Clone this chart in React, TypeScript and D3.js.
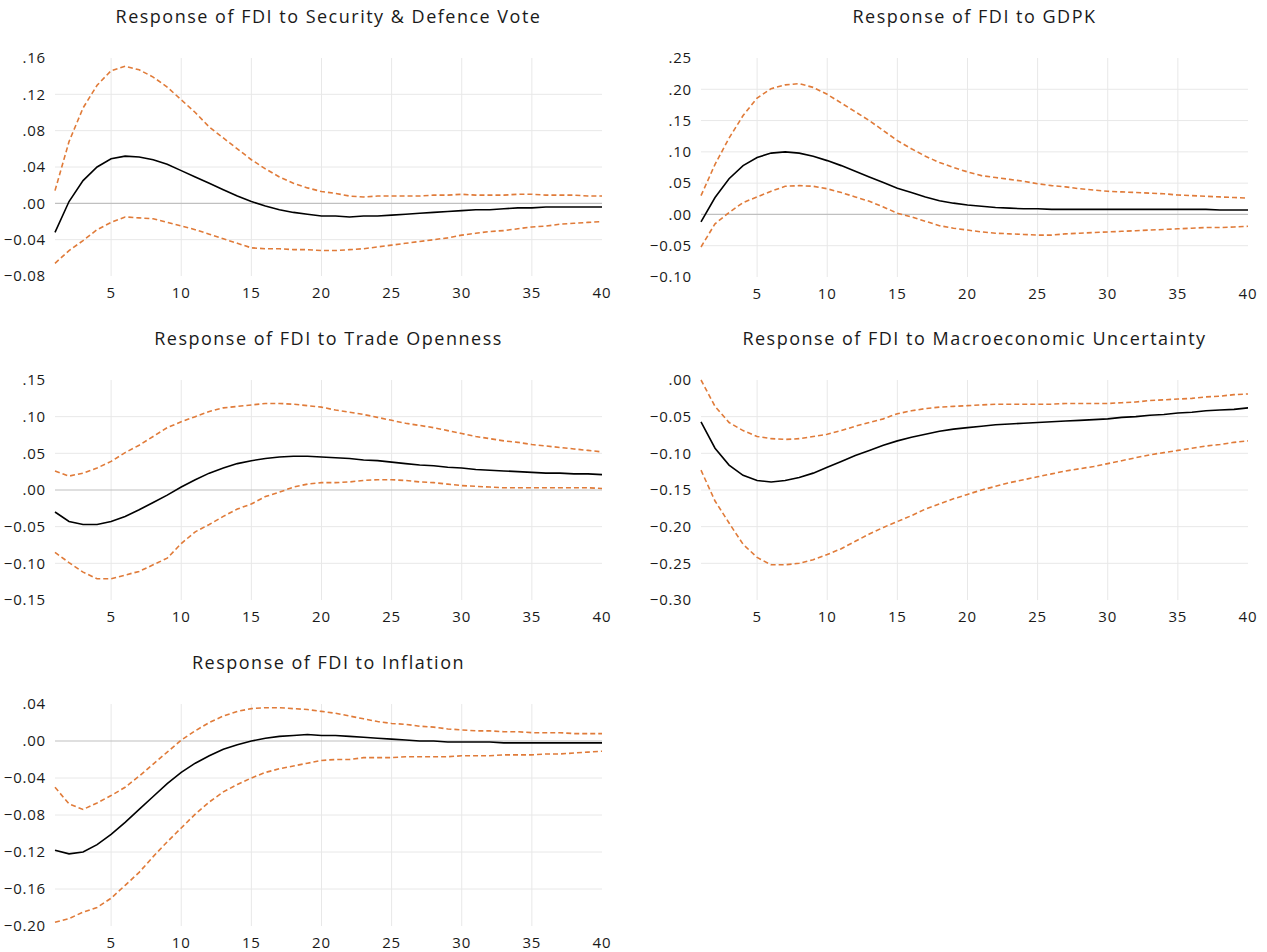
import * as d3 from "d3";
import { useEffect, useRef } from "react";

// horizon 1..40
const periods = d3.range(1, 41);

// Response of FDI to Security & Defence Vote
const secMid = [-0.032, 0.002, 0.025, 0.040, 0.049, 0.052, 0.051, 0.048, 0.043, 0.036, 0.029, 0.022, 0.015, 0.008, 0.002, -0.003, -0.007, -0.010, -0.012, -0.014, -0.014, -0.015, -0.014, -0.014, -0.013, -0.012, -0.011, -0.010, -0.009, -0.008, -0.007, -0.007, -0.006, -0.005, -0.005, -0.004, -0.004, -0.004, -0.004, -0.004];
const secHi = [0.014, 0.068, 0.105, 0.130, 0.146, 0.151, 0.147, 0.139, 0.128, 0.114, 0.100, 0.084, 0.072, 0.060, 0.048, 0.038, 0.029, 0.022, 0.017, 0.013, 0.011, 0.008, 0.007, 0.008, 0.008, 0.008, 0.008, 0.009, 0.009, 0.010, 0.009, 0.009, 0.009, 0.010, 0.010, 0.009, 0.009, 0.009, 0.008, 0.008];
const secLo = [-0.066, -0.052, -0.041, -0.029, -0.021, -0.015, -0.016, -0.017, -0.021, -0.025, -0.029, -0.034, -0.039, -0.044, -0.049, -0.050, -0.050, -0.051, -0.051, -0.052, -0.052, -0.051, -0.050, -0.048, -0.046, -0.044, -0.042, -0.040, -0.038, -0.035, -0.033, -0.031, -0.030, -0.028, -0.026, -0.025, -0.023, -0.022, -0.021, -0.020];

// Response of FDI to GDPK
const gdpMid = [-0.012, 0.027, 0.057, 0.078, 0.091, 0.098, 0.100, 0.098, 0.093, 0.086, 0.078, 0.069, 0.060, 0.051, 0.042, 0.035, 0.028, 0.022, 0.018, 0.015, 0.013, 0.011, 0.010, 0.009, 0.009, 0.008, 0.008, 0.008, 0.008, 0.008, 0.008, 0.008, 0.008, 0.008, 0.008, 0.008, 0.008, 0.007, 0.007, 0.007];
const gdpHi = [0.030, 0.080, 0.122, 0.158, 0.186, 0.201, 0.207, 0.209, 0.203, 0.192, 0.178, 0.164, 0.150, 0.134, 0.118, 0.105, 0.093, 0.083, 0.075, 0.068, 0.062, 0.059, 0.056, 0.053, 0.049, 0.046, 0.044, 0.041, 0.039, 0.037, 0.036, 0.035, 0.034, 0.033, 0.031, 0.030, 0.029, 0.028, 0.027, 0.026];
const gdpLo = [-0.052, -0.015, 0.003, 0.019, 0.028, 0.037, 0.045, 0.046, 0.045, 0.041, 0.035, 0.028, 0.021, 0.012, 0.002, -0.004, -0.011, -0.018, -0.022, -0.025, -0.028, -0.030, -0.031, -0.032, -0.033, -0.033, -0.031, -0.030, -0.029, -0.028, -0.027, -0.026, -0.025, -0.024, -0.023, -0.022, -0.021, -0.021, -0.020, -0.019];

// Response of FDI to Trade Openness
const trdMid = [-0.030, -0.043, -0.047, -0.047, -0.043, -0.036, -0.027, -0.017, -0.007, 0.004, 0.014, 0.023, 0.030, 0.036, 0.040, 0.043, 0.045, 0.046, 0.046, 0.045, 0.044, 0.043, 0.041, 0.040, 0.038, 0.036, 0.034, 0.033, 0.031, 0.030, 0.028, 0.027, 0.026, 0.025, 0.024, 0.023, 0.023, 0.022, 0.022, 0.021];
const trdHi = [0.026, 0.019, 0.023, 0.030, 0.039, 0.051, 0.061, 0.073, 0.085, 0.093, 0.100, 0.107, 0.112, 0.114, 0.116, 0.118, 0.118, 0.117, 0.115, 0.113, 0.109, 0.106, 0.103, 0.099, 0.095, 0.091, 0.088, 0.085, 0.081, 0.077, 0.073, 0.070, 0.067, 0.065, 0.062, 0.060, 0.058, 0.056, 0.054, 0.052];
const trdLo = [-0.085, -0.099, -0.112, -0.121, -0.121, -0.116, -0.111, -0.102, -0.093, -0.073, -0.057, -0.047, -0.036, -0.026, -0.019, -0.009, -0.003, 0.004, 0.008, 0.010, 0.010, 0.011, 0.013, 0.014, 0.014, 0.013, 0.011, 0.010, 0.008, 0.006, 0.005, 0.004, 0.003, 0.003, 0.003, 0.003, 0.003, 0.003, 0.003, 0.002];

// Response of FDI to Macroeconomic Uncertainty
const macMid = [-0.057, -0.093, -0.116, -0.130, -0.137, -0.139, -0.137, -0.133, -0.127, -0.119, -0.111, -0.103, -0.096, -0.089, -0.083, -0.078, -0.074, -0.070, -0.067, -0.065, -0.063, -0.061, -0.060, -0.059, -0.058, -0.057, -0.056, -0.055, -0.054, -0.053, -0.051, -0.050, -0.048, -0.047, -0.045, -0.044, -0.042, -0.041, -0.040, -0.038];
const macHi = [0.000, -0.036, -0.058, -0.069, -0.077, -0.080, -0.081, -0.080, -0.077, -0.074, -0.069, -0.063, -0.058, -0.053, -0.046, -0.042, -0.039, -0.037, -0.036, -0.035, -0.034, -0.033, -0.033, -0.033, -0.033, -0.033, -0.032, -0.032, -0.032, -0.032, -0.031, -0.030, -0.028, -0.027, -0.026, -0.025, -0.023, -0.022, -0.020, -0.019];
const macLo = [-0.123, -0.165, -0.195, -0.224, -0.242, -0.252, -0.252, -0.250, -0.245, -0.238, -0.230, -0.220, -0.210, -0.201, -0.193, -0.185, -0.176, -0.169, -0.162, -0.156, -0.150, -0.145, -0.140, -0.136, -0.132, -0.128, -0.124, -0.121, -0.118, -0.114, -0.110, -0.106, -0.102, -0.099, -0.096, -0.093, -0.090, -0.088, -0.085, -0.083];

// Response of FDI to Inflation
const infMid = [-0.118, -0.122, -0.120, -0.112, -0.101, -0.088, -0.074, -0.060, -0.046, -0.034, -0.024, -0.016, -0.009, -0.004, 0.000, 0.003, 0.005, 0.006, 0.007, 0.006, 0.006, 0.005, 0.004, 0.003, 0.002, 0.001, 0.000, 0.000, -0.001, -0.001, -0.001, -0.001, -0.002, -0.002, -0.002, -0.002, -0.002, -0.002, -0.002, -0.002];
const infHi = [-0.050, -0.068, -0.074, -0.067, -0.059, -0.050, -0.038, -0.025, -0.012, 0.001, 0.011, 0.020, 0.027, 0.032, 0.035, 0.036, 0.036, 0.035, 0.034, 0.032, 0.030, 0.027, 0.024, 0.021, 0.019, 0.018, 0.016, 0.015, 0.013, 0.012, 0.011, 0.011, 0.010, 0.010, 0.009, 0.009, 0.009, 0.008, 0.008, 0.008];
const infLo = [-0.196, -0.192, -0.185, -0.180, -0.170, -0.156, -0.142, -0.125, -0.109, -0.094, -0.079, -0.066, -0.055, -0.047, -0.040, -0.034, -0.030, -0.027, -0.024, -0.021, -0.020, -0.020, -0.018, -0.018, -0.018, -0.017, -0.017, -0.017, -0.017, -0.016, -0.016, -0.016, -0.015, -0.015, -0.015, -0.014, -0.014, -0.013, -0.012, -0.011];

const xTicks = [5, 10, 15, 20, 25, 30, 35, 40];

const panels = [
  { title: "Response of FDI to Security & Defence Vote", mid: secMid, hi: secHi, lo: secLo, domain: [-0.08, 0.16], step: 0.04, left: 55, right: 602, top: 58, bottom: 276 },
  { title: "Response of FDI to GDPK", mid: gdpMid, hi: gdpHi, lo: gdpLo, domain: [-0.10, 0.25], step: 0.05, left: 701, right: 1248, top: 58, bottom: 277 },
  { title: "Response of FDI to Trade Openness", mid: trdMid, hi: trdHi, lo: trdLo, domain: [-0.15, 0.15], step: 0.05, left: 55, right: 602, top: 380, bottom: 600 },
  { title: "Response of FDI to Macroeconomic Uncertainty", mid: macMid, hi: macHi, lo: macLo, domain: [-0.30, 0.00], step: 0.05, left: 701, right: 1248, top: 380, bottom: 600 },
  { title: "Response of FDI to Inflation", mid: infMid, hi: infHi, lo: infLo, domain: [-0.20, 0.04], step: 0.04, left: 55, right: 602, top: 704, bottom: 926 },
];

const FONT = "'Open Sans', Lato, sans-serif";
const ORANGE = "#E07B39";

const fmt = (v: number) => {
  const s = d3.format(".2f")(Math.abs(v) < 1e-9 ? 0 : v);
  return s.replace(/^(-?)0\./, "$1.");
};

const App = () => {
  const ref = useRef<SVGSVGElement>(null);

  useEffect(() => {
    const svg = d3.select(ref.current);
    svg.selectAll("*").remove();

    panels.forEach(p => {
      const x = d3.scaleLinear().domain([1, 40]).range([p.left, p.right]);
      const y = d3.scaleLinear().domain(p.domain).range([p.bottom, p.top]);
      const n = Math.round((p.domain[1] - p.domain[0]) / p.step);
      const yTicks = d3.range(n + 1).map(i => p.domain[0] + i * p.step);

      const g = svg.append("g");

      // horizontal grid (interior only)
      g.selectAll(".hg")
        .data(yTicks.filter((t, i) => i > 0 && i < n && Math.abs(t) > 1e-9))
        .enter()
        .append("line")
        .attr("x1", p.left)
        .attr("x2", p.right)
        .attr("y1", d => y(d))
        .attr("y2", d => y(d))
        .attr("stroke", "#e8e8e8")
        .attr("stroke-width", 1);

      // vertical grid
      g.selectAll(".vg")
        .data(xTicks.filter(t => t < 40))
        .enter()
        .append("line")
        .attr("x1", d => x(d))
        .attr("x2", d => x(d))
        .attr("y1", p.top)
        .attr("y2", p.bottom)
        .attr("stroke", "#e8e8e8")
        .attr("stroke-width", 1);

      // zero line
      if (p.domain[0] < 0 && p.domain[1] > 0) {
        g.append("line")
          .attr("x1", p.left)
          .attr("x2", p.right)
          .attr("y1", y(0))
          .attr("y2", y(0))
          .attr("stroke", "#c0c0c0")
          .attr("stroke-width", 1.2);
      }

      // y tick labels
      g.selectAll(".yt")
        .data(yTicks)
        .enter()
        .append("text")
        .attr("x", p.left - 9)
        .attr("y", d => y(d))
        .attr("dy", "0.35em")
        .attr("text-anchor", "end")
        .attr("font-family", FONT)
        .attr("font-size", 15)
        .attr("letter-spacing", 0.8)
        .attr("fill", "#1a1a1a")
        .text(d => fmt(d));

      // x tick labels
      g.selectAll(".xt")
        .data(xTicks)
        .enter()
        .append("text")
        .attr("x", d => x(d))
        .attr("y", p.bottom + 17)
        .attr("dy", "0.35em")
        .attr("text-anchor", "middle")
        .attr("font-family", FONT)
        .attr("font-size", 15)
        .attr("letter-spacing", 0.8)
        .attr("fill", "#1a1a1a")
        .text(d => d);

      // title
      g.append("text")
        .attr("x", (p.left + p.right) / 2)
        .attr("y", p.top - 41)
        .attr("dy", "0.35em")
        .attr("text-anchor", "middle")
        .attr("font-family", FONT)
        .attr("font-size", 18)
        .attr("letter-spacing", 1.5)
        .attr("fill", "#1a1a1a")
        .text(p.title);

      const line = d3.line<number>()
        .x((d, i) => x(periods[i]))
        .y(d => y(d));

      [p.hi, p.lo].forEach(arr => {
        g.append("path")
          .attr("d", line(arr))
          .attr("fill", "none")
          .attr("stroke", ORANGE)
          .attr("stroke-width", 1.6)
          .attr("stroke-dasharray", "5,3");
      });

      g.append("path")
        .attr("d", line(p.mid))
        .attr("fill", "none")
        .attr("stroke", "#000")
        .attr("stroke-width", 1.6);
    });
  }, []);

  return (
    <svg
      ref={ref}
      width={1267}
      height={952}
      style={{ position: "absolute", left: 0, top: 0, background: "#fff" }}
    />
  );
};

export default App;
